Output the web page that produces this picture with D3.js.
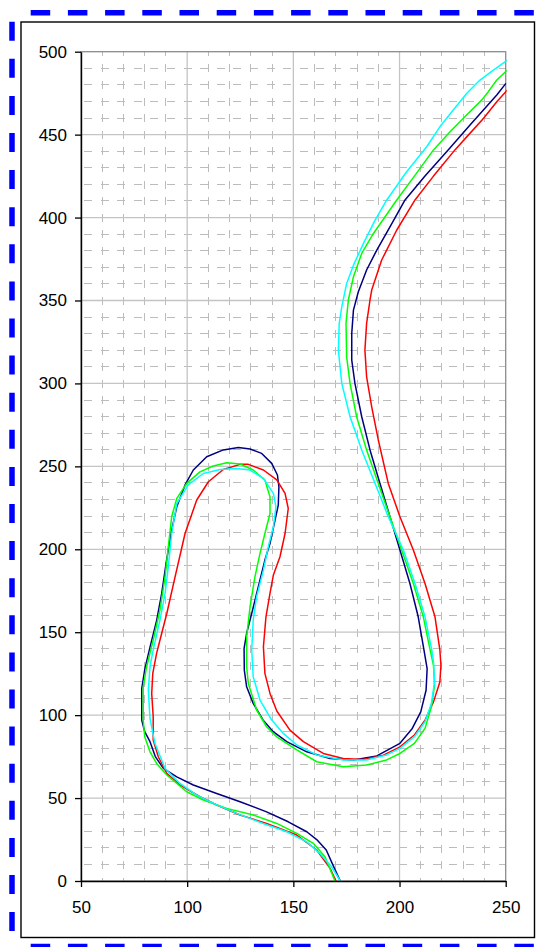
<!DOCTYPE html>
<html>
<head>
<meta charset="utf-8">
<script src="https://cdn.jsdelivr.net/npm/d3@7"></script>
<style>
  body { margin: 0; background: #fff; }
  svg { display: block; font-family: "Liberation Sans", Arial, sans-serif; }
</style>
</head>
<body>
<div id="chart"></div>
<script>
// data, [x, y] pairs, in drawing order of each trace
var navyPts = [[172.1,0],[168.5,10],[165.5,18.7],[161,25],[156.3,29.7],[147.6,35.7],[137.4,41.7],[124.9,47.8],[113.9,52.8],[102.9,57.9],[95.1,62.8],[88.8,67.9],[85,75],[82.5,84],[80,90],[78.6,97],[78.6,116],[80.1,128],[82.5,141],[85.6,157],[88,173.4],[90.3,193.5],[92.7,211.6],[95.1,225.6],[99,238.8],[102.9,247.8],[109.2,255.8],[117,259.9],[124.1,261.4],[129.6,260.5],[135.1,257.8],[139.8,251.8],[142.5,244.8],[143.2,237.7],[142.9,226.6],[141.4,217.7],[139,203.5],[136.6,193.5],[133.5,177.4],[130.8,163.4],[128,149.3],[126.8,140.2],[126.9,127.2],[128,117.1],[131.1,107.1],[135.8,97],[140.5,90],[146.9,84],[156.3,77.9],[167.3,73.9],[178.3,72.9],[189.3,75.4],[200.2,83],[206,92],[210,102],[212.5,115],[213,128],[211.5,139.3],[208.8,159.3],[204.9,179.4],[200.2,199.6],[195.5,219.6],[190.8,239.7],[186.1,259.9],[182.2,279.9],[179,300],[177.5,314],[177.5,330.2],[178.3,344.2],[180.6,355.3],[184.5,368.4],[189.3,380.4],[195.5,394.4],[202.6,410.6],[212,425],[222.9,440.8],[233.2,455.8],[239.5,464.9],[245.8,473.9],[250.1,480.9]];

var redPts = [[170.1,0],[167.3,7.6],[161,18.7],[151.6,27.7],[137.4,34.7],[124.9,39.8],[113.9,45.8],[106,50.8],[96.6,57.9],[90.4,64.9],[86.4,74.9],[84,85],[84,99],[83.3,113],[83.8,125.2],[85.6,137.2],[87.2,145.3],[90.4,161.3],[94.3,183.4],[99,209.5],[104.5,229.7],[110,240.7],[117,248.1],[124.9,251.2],[128.8,251.2],[135.9,247.8],[142.2,241.8],[146.1,233.7],[147.6,224.6],[146.1,209.5],[143.7,195.5],[140.6,184.5],[139,173.4],[137.1,159.3],[135.9,141.2],[136.6,125.2],[139,113.1],[142.2,102.5],[148.4,91],[154.7,84],[164.1,76.9],[173.5,73.9],[183,73.3],[192.4,75.9],[200.2,80.9],[207,88],[212,97],[216,108],[219,120],[219.5,130],[219,139.3],[216.7,159.3],[212,179.4],[206.5,199.6],[200.2,219.6],[194.7,239.7],[190,265.9],[186.9,285.9],[184.5,304],[183.7,320.1],[184.5,336.2],[186.1,350.3],[186.9,356.3],[191.6,374.4],[198.7,392.5],[207.3,410.6],[216,425],[226.1,440.8],[232.4,449.7],[239.5,459.7],[245.8,469.8],[250.8,476.9]];

var greenPts = [[169.6,0],[164.9,14.6],[159.4,22.7],[151.6,28.7],[142.2,34.7],[131.1,39.8],[118.6,43.8],[107.6,48.8],[99.8,53.8],[90.4,63.9],[85.6,70.9],[82.5,77.9],[80,87],[79.3,97],[79.3,117.1],[80.9,129.2],[84,145.3],[87.2,163.4],[89.6,183.4],[91.1,201.4],[92.7,219.6],[95.1,230.7],[99.8,239.7],[106,246.7],[112.3,250.2],[118.6,252.2],[124.9,251.4],[131.1,247.8],[136.6,241.8],[139,231.6],[139,221.6],[136.6,209.5],[134.3,197.5],[131.9,183.4],[129.6,165.3],[128,147.2],[128,129.2],[128.8,119.1],[132.7,103.1],[137.4,93],[142.2,86.9],[151.6,79],[161,71.9],[173.5,68.9],[184.5,69.9],[193.9,73],[200.2,76.9],[207,83],[212,92],[215,105],[216.5,118],[216,130],[214.4,139.3],[211.2,159.3],[206.5,179.4],[201,199.6],[195.5,219.6],[190,239.7],[184.5,259.9],[179.8,279.9],[176.7,300],[175.1,316],[174.8,336.2],[175.9,350.3],[178.3,364.3],[182.2,378.4],[187.7,390.4],[193.2,400.5],[198.7,410.6],[207,425],[216,440.8],[223.8,451.7],[231.6,461.8],[238.7,470.8],[241.8,475.9],[245.8,482.9],[250.8,488.9]];

var cyanPts = [[172.1,0],[168,8.6],[162.5,16.6],[156.3,23.6],[146.9,29.7],[135.8,34.7],[123.3,40.8],[112.3,46.8],[104.5,51.8],[96.6,58.8],[89.6,67.8],[84.8,83],[82.5,98],[81.7,115.1],[82.5,129.2],[84,139.3],[87.2,157.4],[89.6,173.4],[91.1,189.4],[92.7,209.5],[95.1,227.6],[100.5,238.8],[107.6,245.7],[115.5,248.1],[123.3,248.7],[129.6,247.8],[135.9,242.7],[140.6,233.7],[141.8,225.6],[140.6,213.6],[138.2,201.5],[135.9,187.4],[132.7,171.4],[131.1,157.4],[130.4,139.3],[131.1,123.1],[134.3,109.1],[139.8,97],[145.3,89],[151.6,82],[161,76],[173.5,73],[184.5,73],[193.9,76],[200.2,80],[207,87],[212,96],[215,107],[216.5,120],[216,132],[215.2,139.3],[212,159.3],[207.3,179.4],[201.8,199.6],[194.7,219.6],[188.5,239.7],[182.2,259.9],[176.7,279.9],[172.8,300],[171.2,320.1],[171.6,336.2],[172.8,346.2],[175.1,360.3],[178.3,371.3],[183,384.4],[188.5,398.5],[194,410.6],[203,427],[212.8,442.7],[219,454.7],[225.3,464.9],[231.6,474.8],[237.9,482.9],[244.2,488.9],[250.8,495]];

var xTicks = [50, 100, 150, 200, 250];
var yTicks = [0, 50, 100, 150, 200, 250, 300, 350, 400, 450, 500];

var series = [
  {name: "navy", color: "#000080", pts: navyPts},
  {name: "red", color: "#ff0000", pts: redPts},
  {name: "green", color: "#00ff00", pts: greenPts},
  {name: "cyan", color: "#00ffff", pts: cyanPts}
];

var W = 540, H = 947;
var margin = {left: 81, top: 51.7, right: 540 - 505.7, bottom: 947 - 881};
var width = W - margin.left - margin.right;
var height = H - margin.top - margin.bottom;

var svg = d3.select("#chart").append("svg")
  .attr("width", W)
  .attr("height", H);

svg.append("rect").attr("width", W).attr("height", H).attr("fill", "#fff");

// blue dashed page border (top, left, bottom)
var blue = svg.append("g").attr("stroke", "#0000ff").attr("stroke-width", 5.5);
blue.append("line").attr("x1", 30.7).attr("x2", W).attr("y1", 12.7).attr("y2", 12.7)
  .attr("stroke-dasharray", "19.5,17.7");
blue.append("line").attr("x1", 30.7).attr("x2", W).attr("y1", 946.5).attr("y2", 946.5)
  .attr("stroke-dasharray", "19.5,17.7");
blue.append("line").attr("x1", 12).attr("x2", 12).attr("y1", 21.7).attr("y2", H)
  .attr("stroke-dasharray", "19,18.1");

// chart frame
svg.append("rect")
  .attr("x", 21).attr("y", 22)
  .attr("width", 513.5).attr("height", 915.5)
  .attr("fill", "none")
  .attr("stroke", "#000")
  .attr("stroke-width", 1.4);

var g = svg.append("g")
  .attr("transform", "translate(" + margin.left + "," + margin.top + ")");

var x = d3.scaleLinear().domain([50, 250]).range([0, width]);
var y = d3.scaleLinear().domain([0, 500]).range([height, 0]);

// minor gridlines every 10
var minorX = d3.range(50, 251, 10).filter(function (v) { return v % 50 != 0; });
var minorY = d3.range(0, 501, 10).filter(function (v) { return v % 50 != 0; });

g.append("g").selectAll("line").data(minorX).enter().append("line")
  .attr("x1", function (d) { return x(d); })
  .attr("x2", function (d) { return x(d); })
  .attr("y1", 0).attr("y2", height)
  .attr("stroke", "#bcbcbc")
  .attr("stroke-dasharray", "8,8.6")
  .attr("stroke-dashoffset", 4)
  .attr("shape-rendering", "crispEdges");

g.append("g").selectAll("line").data(minorY).enter().append("line")
  .attr("x1", 0).attr("x2", width)
  .attr("y1", function (d) { return y(d); })
  .attr("y2", function (d) { return y(d); })
  .attr("stroke", "#bcbcbc")
  .attr("stroke-dasharray", "8,8.6")
  .attr("stroke-dashoffset", -3)
  .attr("shape-rendering", "crispEdges");

// major gridlines
g.append("g").selectAll("line").data(xTicks.slice(1, -1)).enter().append("line")
  .attr("x1", function (d) { return x(d); })
  .attr("x2", function (d) { return x(d); })
  .attr("y1", 0).attr("y2", height)
  .attr("stroke", "#c4c4c4")
  .attr("stroke-width", 1.3);

g.append("g").selectAll("line").data(yTicks.slice(1, -1)).enter().append("line")
  .attr("x1", 0).attr("x2", width)
  .attr("y1", function (d) { return y(d); })
  .attr("y2", function (d) { return y(d); })
  .attr("stroke", "#c4c4c4")
  .attr("stroke-width", 1.3);

// plot area border (gray top/right)
g.append("rect")
  .attr("width", width).attr("height", height)
  .attr("fill", "none")
  .attr("stroke", "#8c8c8c")
  .attr("stroke-width", 1.3);

g.append("clipPath").attr("id", "clip")
  .append("rect").attr("x", -1).attr("y", -1).attr("width", width + 2).attr("height", height + 2);

var line = d3.line()
  .x(function (d) { return x(d[0]); })
  .y(function (d) { return y(d[1]); });

g.append("g").attr("clip-path", "url(#clip)")
  .selectAll("path").data(series).enter().append("path")
  .attr("fill", "none")
  .attr("stroke", function (d) { return d.color; })
  .attr("stroke-width", 1.5)
  .attr("stroke-linejoin", "round")
  .attr("d", function (d) { return line(d.pts); });

// axes
var xAxis = g.append("g")
  .attr("transform", "translate(0," + height + ")")
  .call(d3.axisBottom(x).tickValues(xTicks).tickSize(6).tickPadding(14).tickSizeOuter(0));

var yAxis = g.append("g")
  .call(d3.axisLeft(y).tickValues(yTicks).tickSize(6).tickPadding(8).tickSizeOuter(0));

[xAxis, yAxis].forEach(function (a) {
  a.select(".domain").attr("stroke", "#000").attr("stroke-width", 1.4);
  a.selectAll(".tick line").attr("stroke", "#000").attr("stroke-width", 1.3);
  a.selectAll(".tick text")
    .attr("fill", "#000")
    .style("font-family", "'Liberation Sans', Arial, sans-serif")
    .style("font-size", "17px");
});
</script>
</body>
</html>
